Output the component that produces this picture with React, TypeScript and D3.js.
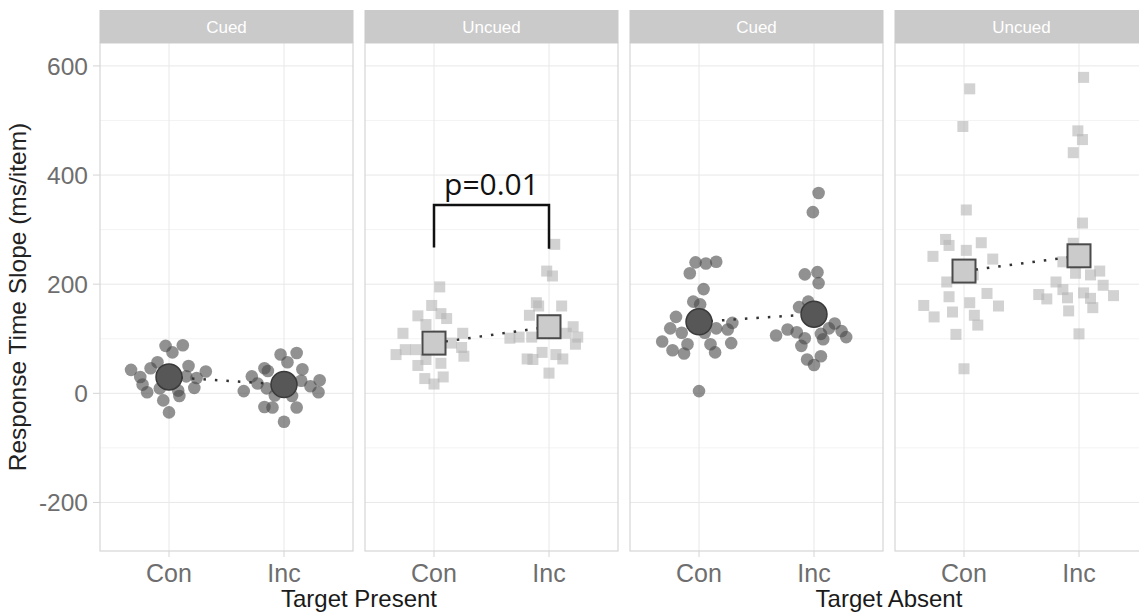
import React from "react";
import * as d3 from "d3";

// facets
const groups = ["Target Present", "Target Absent"];
const cueing = ["Cued", "Uncued", "Cued", "Uncued"];
const categories = ["Con", "Inc"];
const yTicks = [-200, 0, 200, 400, 600];
const yMinor = [-100, 100, 300, 500];

// individual slopes: [jittered x (1 = Con, 2 = Inc), ms/item]
const presentCuedCon = [
  [0.97, 87], [1.12, 88], [1.03, 75], [0.67, 43], [0.9, 57], [0.84, 46], [1.17, 50],
  [1.32, 40], [0.75, 30], [0.77, 16], [0.81, 2], [1.15, 31], [1.24, 28], [1.22, 10],
  [1.08, 5], [1.09, -5], [0.95, -13], [1.0, -35], [0.92, 9],
];
const presentCuedInc = [
  [1.97, 71], [2.11, 74], [2.03, 57], [1.83, 46], [1.86, 41], [2.16, 44], [1.72, 31],
  [1.77, 18], [1.65, 4], [1.85, 9], [2.15, 23], [2.23, 13], [2.31, 24], [2.3, 2],
  [2.07, -5], [1.83, -25], [1.9, -26], [2.11, -26], [2.0, -52], [1.92, -4],
];
const presentUncuedCon = [
  [1.05, 195], [0.98, 161], [1.06, 146], [1.11, 137], [0.86, 142], [0.93, 126], [0.73, 110],
  [1.25, 110], [0.84, 80], [0.75, 80], [0.67, 71], [1.24, 84], [1.26, 68], [0.93, 62],
  [1.06, 55], [0.86, 51], [1.08, 30], [0.92, 27], [1.0, 17], [1.15, 92],
];
const presentUncuedInc = [
  [2.05, 273], [1.98, 224], [2.03, 215], [1.89, 166], [1.91, 160], [2.11, 160], [1.83, 143],
  [2.21, 122], [2.25, 103], [2.23, 90], [1.66, 101], [1.74, 103], [1.85, 103], [2.15, 110],
  [1.94, 75], [1.81, 63], [1.86, 62], [2.06, 71], [2.12, 63], [2.0, 37],
];
const absentCuedCon = [
  [0.97, 240], [1.06, 238], [1.15, 241], [0.92, 220], [1.04, 191], [0.95, 168], [1.01, 163],
  [0.8, 140], [0.75, 119], [0.85, 111], [0.68, 95], [0.77, 79], [0.87, 73], [0.9, 90],
  [1.05, 111], [1.15, 119], [1.29, 129], [1.25, 117], [1.1, 90], [1.14, 75], [1.28, 92], [1.0, 4],
];
const absentCuedInc = [
  [2.04, 367], [1.99, 332], [1.92, 218], [2.03, 222], [2.04, 202], [1.95, 168], [1.87, 158],
  [2.18, 128], [2.13, 119], [2.24, 114], [2.28, 103], [1.77, 117], [1.85, 112], [1.67, 106],
  [1.92, 101], [2.06, 109], [2.08, 99], [1.89, 87], [1.94, 62], [2.06, 68], [2.0, 52],
];
const absentUncuedCon = [
  [1.05, 558], [0.99, 489], [1.02, 336], [0.84, 282], [0.87, 271], [1.15, 276], [1.02, 262],
  [0.73, 251], [1.25, 246], [1.08, 217], [0.85, 204], [0.87, 177], [1.2, 183], [1.05, 166],
  [0.65, 161], [1.3, 160], [0.9, 149], [0.74, 140], [1.09, 143], [1.12, 125], [0.93, 108], [1.0, 45],
];
const absentUncuedInc = [
  [2.04, 579], [1.99, 481], [2.03, 465], [1.95, 441], [2.03, 312], [1.95, 275], [1.86, 241],
  [1.97, 220], [2.1, 217], [2.18, 224], [1.8, 204], [1.86, 190], [2.21, 198], [2.3, 179],
  [1.65, 181], [1.72, 173], [1.9, 175], [2.04, 184], [2.1, 174], [2.12, 157], [1.91, 151], [2.0, 109],
];

// condition means (Con, Inc)
const presentCuedMeans = [30, 16];
const presentUncuedMeans = [92, 122];
const absentCuedMeans = [131, 145];
const absentUncuedMeans = [224, 252];

const pLabel = "p=0.01";
const bracketTop = 345;
const bracketEnds = [267, 265];

const panels = [
  { points: [presentCuedCon, presentCuedInc], means: presentCuedMeans, shape: "circle" },
  { points: [presentUncuedCon, presentUncuedInc], means: presentUncuedMeans, shape: "square" },
  { points: [absentCuedCon, absentCuedInc], means: absentCuedMeans, shape: "circle" },
  { points: [absentUncuedCon, absentUncuedInc], means: absentUncuedMeans, shape: "square" },
];

const W = 1139;
const H = 613;
const font = "'Liberation Sans', Arial, sans-serif";

export default function App() {
  const panelW = 253;
  const panelLeft = (i: number) => 100 + i * 265;
  const top = 43;
  const bottom = 551;

  const y = d3.scaleLinear().domain([-289, 642]).range([bottom, top]);
  const x = d3.scaleLinear().domain([0.4, 2.6]).range([0, panelW]);
  const catX = (c: string) => x(categories.indexOf(c) + 1);

  return (
    <svg width={W} height={H} style={{ position: "absolute", left: 0, top: 0, background: "#fff" }}>
      {/* y axis */}
      {yTicks.map((t) => (
        <g key={t}>
          <line x1={93} x2={100} y1={y(t)} y2={y(t)} stroke="#d4d4d4" />
          <text x={88} y={y(t)} dy="0.36em" textAnchor="end" fontFamily={font} fontSize={24.5} fill="#6e6e6e">
            {t}
          </text>
        </g>
      ))}
      <text
        transform={`translate(26,${(top + bottom) / 2}) rotate(-90)`}
        textAnchor="middle"
        fontFamily={font}
        fontSize={24.5}
        fill="#222"
      >
        Response Time Slope (ms/item)
      </text>

      {panels.map((p, i) => {
        const left = panelLeft(i);
        return (
          <g key={i} transform={`translate(${left},0)`}>
            <rect x={0} y={top} width={panelW} height={bottom - top} fill="#fff" />
            {yMinor.map((t) => (
              <line key={"m" + t} x1={0} x2={panelW} y1={y(t)} y2={y(t)} stroke="#f3f3f3" />
            ))}
            {yTicks.map((t) => (
              <line key={t} x1={0} x2={panelW} y1={y(t)} y2={y(t)} stroke="#e8e8e8" />
            ))}
            {categories.map((c) => (
              <line key={c} x1={catX(c)} x2={catX(c)} y1={top} y2={bottom} stroke="#e8e8e8" />
            ))}

            {/* individual points */}
            {p.points.map((arr, ci) =>
              arr.map((d, k) =>
                p.shape === "circle" ? (
                  <circle key={ci + "-" + k} cx={x(d[0])} cy={y(d[1])} r={6.3} fill="#474747" fillOpacity={0.6} />
                ) : (
                  <rect
                    key={ci + "-" + k}
                    x={x(d[0]) - 5.5}
                    y={y(d[1]) - 5.5}
                    width={11}
                    height={11}
                    fill="#b4b4b4"
                    fillOpacity={0.6}
                  />
                )
              )
            )}

            {/* dotted line between means */}
            <line
              x1={catX("Con")}
              x2={catX("Inc")}
              y1={y(p.means[0])}
              y2={y(p.means[1])}
              stroke="#333"
              strokeWidth={2.5}
              strokeDasharray="2.5 9"
            />

            {/* means */}
            {p.means.map((m, ci) =>
              p.shape === "circle" ? (
                <circle key={"mean" + ci} cx={x(ci + 1)} cy={y(m)} r={13} fill="#575757" stroke="#3a3a3a" strokeWidth={1.5} />
              ) : (
                <rect
                  key={"mean" + ci}
                  x={x(ci + 1) - 11.5}
                  y={y(m) - 11.5}
                  width={23}
                  height={23}
                  fill="#cbcbcb"
                  stroke="#4a4a4a"
                  strokeWidth={2}
                />
              )
            )}

            {/* panel border */}
            <rect x={0} y={top} width={panelW} height={bottom - top} fill="none" stroke="#d6d6d6" strokeWidth={1.2} />

            {/* strip */}
            <rect x={-0.5} y={10} width={panelW + 1} height={top - 10} fill="#cacaca" />
            <text x={panelW / 2} y={(10 + top) / 2} dy="0.36em" textAnchor="middle" fontFamily={font} fontSize={17} fill="#fff">
              {cueing[i]}
            </text>

            {/* x ticks */}
            {categories.map((c) => (
              <g key={"t" + c}>
                <line x1={catX(c)} x2={catX(c)} y1={bottom} y2={bottom + 6} stroke="#d4d4d4" />
                <text x={catX(c)} y={582} textAnchor="middle" fontFamily={font} fontSize={25} fill="#6e6e6e">
                  {c}
                </text>
              </g>
            ))}

            {/* significance bracket */}
            {i === 1 && (
              <g>
                <path
                  d={`M${catX("Con")},${y(bracketEnds[0])}V${y(bracketTop)}H${catX("Inc")}V${y(bracketEnds[1])}`}
                  fill="none"
                  stroke="#111"
                  strokeWidth={2.5}
                />
                <text
                  x={(catX("Con") + catX("Inc")) / 2}
                  y={y(bracketTop) - 10}
                  textAnchor="middle"
                  fontFamily="'Open Sans', sans-serif"
                  fontSize={30}
                  fill="#111"
                >
                  {pLabel}
                </text>
              </g>
            )}
          </g>
        );
      })}

      {/* group titles */}
      {groups.map((g, gi) => (
        <text
          key={g}
          x={(panelLeft(gi * 2) + panelLeft(gi * 2 + 1) + panelW) / 2}
          y={607}
          textAnchor="middle"
          fontFamily={font}
          fontSize={24}
          fill="#1a1a1a"
        >
          {g}
        </text>
      ))}
    </svg>
  );
}
